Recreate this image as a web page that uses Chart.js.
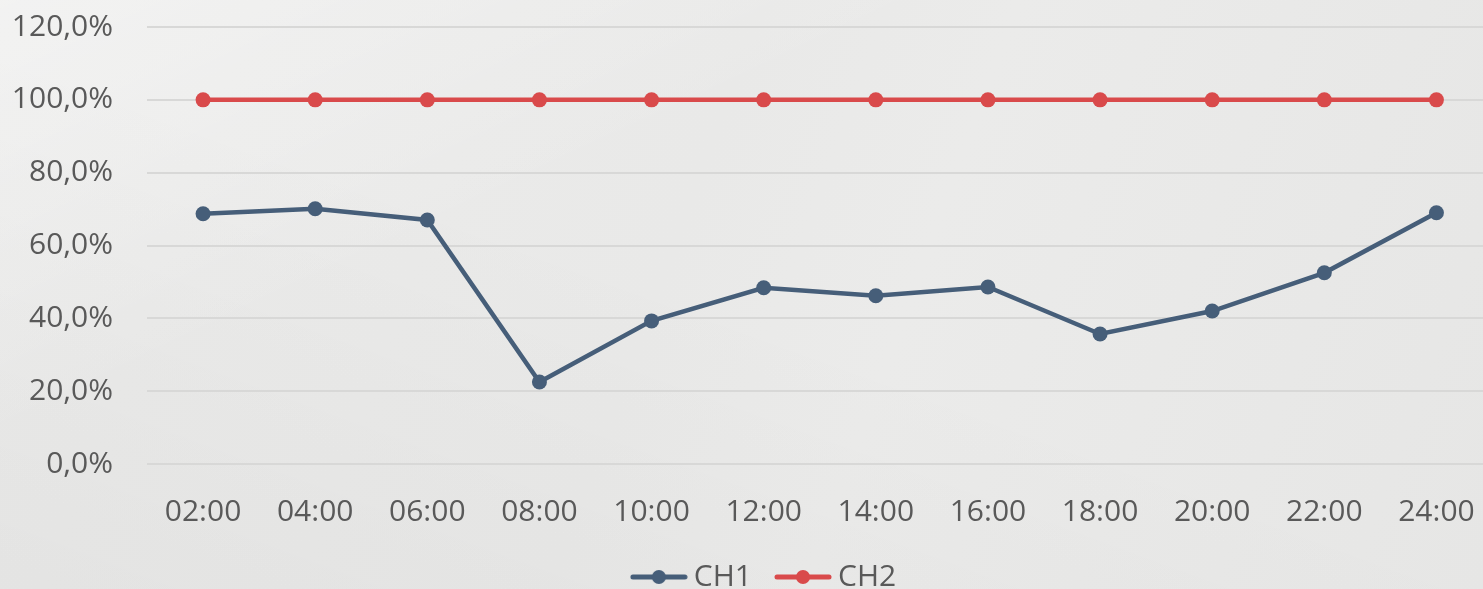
<!DOCTYPE html>
<html>
<head>
<meta charset="utf-8">
<script src="https://cdn.jsdelivr.net/npm/chart.js@4/dist/chart.umd.min.js"></script>
<style>
  html, body { margin: 0; padding: 0; overflow: hidden; }
  body {
    width: 1483px; height: 589px;
    background:
      linear-gradient(155deg, rgba(255,255,255,0.35) 0%, rgba(255,255,255,0) 35%),
      linear-gradient(20deg, rgba(0,0,0,0.03) 0%, rgba(0,0,0,0) 50%),
      linear-gradient(110deg, #ececeb 0%, #e9e9e8 45%, #ebebea 60%, #e6e6e5 100%);
  }
  #wrap { width: 1500px; height: 602px; position: relative; }
</style>
</head>
<body>
<div id="wrap"><canvas id="chart"></canvas></div>
<script>
// ─── data ────────────────────────────────────────────────────────────────────
const hours = ['02:00', '04:00', '06:00', '08:00', '10:00', '12:00', '14:00', '16:00', '18:00', '20:00', '22:00', '24:00'];
const ch1 = [68.7, 70.1, 67.0, 22.5, 39.3, 48.4, 46.2, 48.6, 35.7, 42.0, 52.5, 69.0];
const ch2 = [100, 100, 100, 100, 100, 100, 100, 100, 100, 100, 100, 100];
const yTicks = [0, 20, 40, 60, 80, 100, 120];

const BLUE = '#465e79';
const RED = '#d94a4b';
const TEXT = '#595959';
const FONT = "'Open Sans', 'Noto Sans', sans-serif";
const FS = 30;

// legend marker: short line with a dot in the middle
function legendMarker(color) {
  const c = document.createElement('canvas');
  c.width = 58; c.height = 16;
  const g = c.getContext('2d');
  g.strokeStyle = color; g.lineWidth = 5; g.lineCap = 'round';
  g.beginPath(); g.moveTo(3, 8); g.lineTo(55, 8); g.stroke();
  g.fillStyle = color;
  g.beginPath(); g.arc(29, 8, 7, 0, Math.PI * 2); g.fill();
  return c;
}

function fmtPct(v) {
  return v.toFixed(1).replace('.', ',') + '%';
}

// nudge the legend a bit right, like the original
const legendShift = {
  id: 'legendShift',
  afterLayout(chart) {
    if (!chart.legend) return;
    chart.legend.left += 20;
    chart.legend.right += 20;
  },
};

const series = [
  { label: 'CH1', data: ch1, color: BLUE },
  { label: 'CH2', data: ch2, color: RED },
];

new Chart(document.getElementById('chart'), {
  type: 'line',
  data: {
    labels: hours,
    datasets: series.map(s => ({
      label: s.label,
      data: s.data,
      borderColor: s.color,
      backgroundColor: s.color,
      borderWidth: 4.5,
      pointRadius: 7.5, pointHoverRadius: 7.5,
      pointBackgroundColor: s.color,
      pointBorderWidth: 0,
      tension: 0, fill: false,
      marker: legendMarker(s.color),
    })),
  },
  plugins: [legendShift],
  options: {
    responsive: true, maintainAspectRatio: false,
    animation: false,
    layout: { padding: { top: 27, right: 5, left: 0, bottom: 0 } },
    plugins: {
      tooltip: { enabled: false },
      legend: {
        display: true, position: 'bottom',
        labels: {
          color: TEXT, font: { family: FONT, size: FS },
          usePointStyle: true, pointStyleWidth: 40, padding: 31,
          generateLabels: chart => chart.data.datasets.map((d, i) => ({
            text: d.label,
            fillStyle: d.borderColor,
            strokeStyle: d.borderColor,
            fontColor: TEXT,
            lineWidth: 0,
            pointStyle: d.marker,
            hidden: false,
            datasetIndex: i,
          })),
        },
      },
    },
    scales: {
      x: {
        offset: true,
        grid: { display: false },
        border: { display: false },
        ticks: { color: TEXT, font: { family: FONT, size: FS }, padding: 22, maxRotation: 0 },
        afterFit: s => { s.height = 67; },
      },
      y: {
        min: 0, max: 120,
        afterBuildTicks: s => { s.ticks = yTicks.map(v => ({ value: v })); },
        afterFit: s => { s.width = 147; s.paddingTop = 0; s.paddingBottom = 0; },
        grid: { color: '#d8d8d7', lineWidth: 2, drawTicks: false },
        border: { display: false },
        ticks: { color: TEXT, font: { family: FONT, size: FS }, padding: 34, callback: v => fmtPct(v) },
      },
    },
  },
});
</script>
</body>
</html>
